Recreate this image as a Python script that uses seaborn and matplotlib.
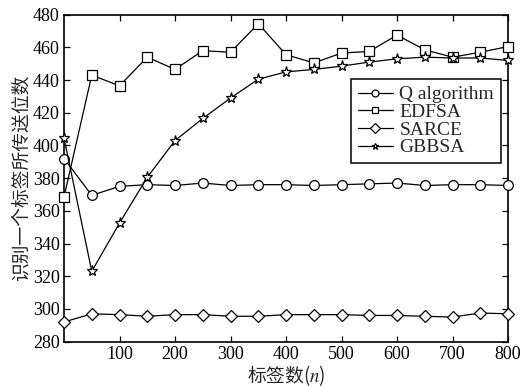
import matplotlib
matplotlib.use("Agg")
import matplotlib.pyplot as plt
import seaborn as sns
import pandas as pd

# number of tags
tags = [0, 50, 100, 150, 200, 250, 300, 350, 400, 450, 500, 550, 600, 650, 700, 750, 800]

q_algorithm = [392, 369.5, 375, 376, 375.5, 377, 375.5, 376, 376, 375.5, 376, 376.5, 377, 375.5, 376, 376, 375.5]
edfsa = [368.5, 443, 436.5, 454, 446.5, 458, 457, 474.5, 455.5, 450.5, 456.5, 457.5, 467.5, 458.5, 454, 457, 460.5]
sarce = [292, 297, 296.5, 295.5, 296.5, 296.5, 295.5, 295.5, 296.5, 296.5, 296.5, 296, 296, 295.5, 295, 297.5, 297]
gbbsa = [404.5, 323, 352.5, 380.5, 403, 416.5, 429, 440.5, 445, 446.5, 448.5, 451, 453, 454, 453.5, 453.5, 452]

series_names = ["Q algorithm", "EDFSA", "SARCE", "GBBSA"]
series_values = [q_algorithm, edfsa, sarce, gbbsa]
series_markers = ["o", "s", "D", "*"]
marker_sizes = [7, 7, 6, 8]

y_ticks = [280, 300, 320, 340, 360, 380, 400, 420, 440, 460, 480]
x_ticks = [100, 200, 300, 400, 500, 600, 700, 800]

sns.set_style("ticks")
plt.rcParams["font.family"] = ["Liberation Serif", "Noto Sans CJK SC"]
plt.rcParams["mathtext.fontset"] = "stix"

fig = plt.figure(figsize=(5.23, 3.86), dpi=100)
ax = fig.add_axes([0.1224, 0.115, 0.849, 0.847])

for name, vals, mk, ms in zip(series_names, series_values, series_markers, marker_sizes):
    df = pd.DataFrame({"n": tags, "bits": vals})
    sns.lineplot(data=df, x="n", y="bits", ax=ax, color="black", linewidth=0.9,
                 marker=mk, markersize=ms, markerfacecolor="white",
                 markeredgecolor="black", markeredgewidth=0.9, label=name,
                 clip_on=False, zorder=3)

ax.set_xlim(0, 800)
ax.set_ylim(280, 480)
ax.set_xticks(x_ticks)
ax.set_yticks(y_ticks)
ax.tick_params(direction="in", top=True, right=True, length=4, width=0.9,
               labelsize=13, colors="black", pad=3)
for s in ax.spines.values():
    s.set_linewidth(1.2)
    s.set_color("black")

ax.set_xlabel("标签数($\\it{n}$)", fontsize=13.5, family=["Noto Sans CJK SC", "DejaVu Serif"], labelpad=0)
ax.set_ylabel("识别一个标签所传送位数", fontsize=13.5, family=["Noto Sans CJK SC"], labelpad=1)

leg = ax.legend(loc="upper right", bbox_to_anchor=(0.984, 0.803), fontsize=14,
                frameon=True, fancybox=False, edgecolor="black", framealpha=1,
                borderpad=0.35, labelspacing=0.0, handlelength=1.8,
                handletextpad=0.35, borderaxespad=0)
leg.get_frame().set_linewidth(1.1)
for h in leg.legend_handles:
    h.set_markersize(5)

fig.savefig("out.png", dpi=100)
